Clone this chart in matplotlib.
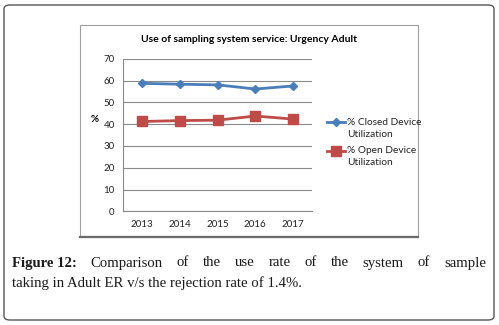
import matplotlib.pyplot as plt
from matplotlib.patches import FancyBboxPatch, Rectangle
from matplotlib.lines import Line2D

years = ['2013', '2014', '2015', '2016', '2017']
closed = [58.7, 58.3, 58.0, 56.1, 57.5]
opened = [41.2, 41.6, 41.8, 43.7, 42.3]
yticks = [0, 10, 20, 30, 40, 50, 60, 70]
names = ['% Closed Device\nUtilization', '% Open Device\nUtilization']
colors = ['#4a7ebb', '#be4b48']
markers = [('D', 4.5), ('s', 6.5)]

W, H = 499, 325
fig = plt.figure(figsize=(W / 100, H / 100), dpi=100)

def fx(px):
    return px / W

def fy(py):
    return 1 - py / H

# outer rounded frame
fig.patches.append(FancyBboxPatch((fx(4), fy(320)), fx(490), 315 / H,
                                  boxstyle='round,pad=0,rounding_size=0.012',
                                  transform=fig.transFigure, fill=False,
                                  ec='#555555', lw=1.0))
# chart box
fig.patches.append(Rectangle((fx(80), fy(236)), fx(338), 211 / H,
                             transform=fig.transFigure, fill=False,
                             ec='#a0a0a0', lw=0.8))
fig.lines.append(Line2D([fx(80), fx(418)], [fy(236.5), fy(236.5)],
                        transform=fig.transFigure, color='#6a6a6a', lw=1.6))

ax = fig.add_axes([fx(123), fy(211.3), fx(189), (211.3 - 58.7) / H])
x = range(len(years))
for vals, c, (m, ms) in zip([closed, opened], colors, markers):
    ax.plot(x, vals, color=c, lw=2, marker=m, ms=ms)
ax.set_xlim(-0.5, 4.5)
ax.set_ylim(0, 70)
ax.set_yticks(yticks)
ax.set_xticks(list(x))
ax.set_xticklabels(years)
ax.yaxis.grid(True, color='#8a8a8a', lw=0.8)
ax.set_axisbelow(True)
for s in ['top', 'right']:
    ax.spines[s].set_visible(False)
for s in ['left', 'bottom']:
    ax.spines[s].set_color('#8a8a8a')
    ax.spines[s].set_linewidth(0.8)
ax.tick_params(axis='y', length=0, labelsize=7, colors='#222222', pad=6)
ax.tick_params(axis='x', length=0, labelsize=7, colors='#222222', pad=6)
for lab in ax.get_xticklabels() + ax.get_yticklabels():
    lab.set_family('Lato')

fig.text(fx(249), fy(40), 'Use of sampling system service: Urgency Adult',
         ha='center', va='center', fontsize=7.5, fontweight='bold', family='Lato')
fig.text(fx(95), fy(119), '%', ha='center', va='center', fontsize=7,
         fontweight='bold', family='Lato')

# legend drawn by hand: handle aligned with first text line
for i, (name, c, (m, ms)) in enumerate(zip(names, colors, markers)):
    yy = 122 + i * 28.5
    fig.lines.append(Line2D([fx(327), fx(345)], [fy(yy), fy(yy)], color=c, lw=2,
                            transform=fig.transFigure))
    fig.lines.append(Line2D([fx(336)], [fy(yy)], color=c, marker=m, ms=ms,
                            transform=fig.transFigure))
    fig.text(fx(347), fy(yy - 4.5), name, ha='left', va='top', fontsize=7.3,
             family='Lato', color='#222222', linespacing=1.45)

# caption, first line justified
line1 = ['Figure 12:', 'Comparison', 'of', 'the', 'use', 'rate', 'of', 'the',
         'system', 'of', 'sample']
line2 = 'taking in Adult ER v/s the rejection rate of 1.4%.'
fs = 10.6
fig.canvas.draw()
r = fig.canvas.get_renderer()
texts = []
for i, w in enumerate(line1):
    t = fig.text(0, fy(263), w, fontsize=fs, family='Liberation Serif',
                 fontweight='bold' if i == 0 else 'normal', va='center',
                 color='#1a1a1a')
    texts.append(t)
widths = [t.get_window_extent(r).width for t in texts]
left, right = 12, 486
gap = (right - left - sum(widths)) / (len(widths) - 1)
pos = left
for t, wd in zip(texts, widths):
    t.set_x(fx(pos))
    pos += wd + gap
fig.text(fx(12), fy(283), line2, fontsize=fs, family='Liberation Serif',
         va='center', color='#1a1a1a')

fig.savefig('out.png', dpi=100)
